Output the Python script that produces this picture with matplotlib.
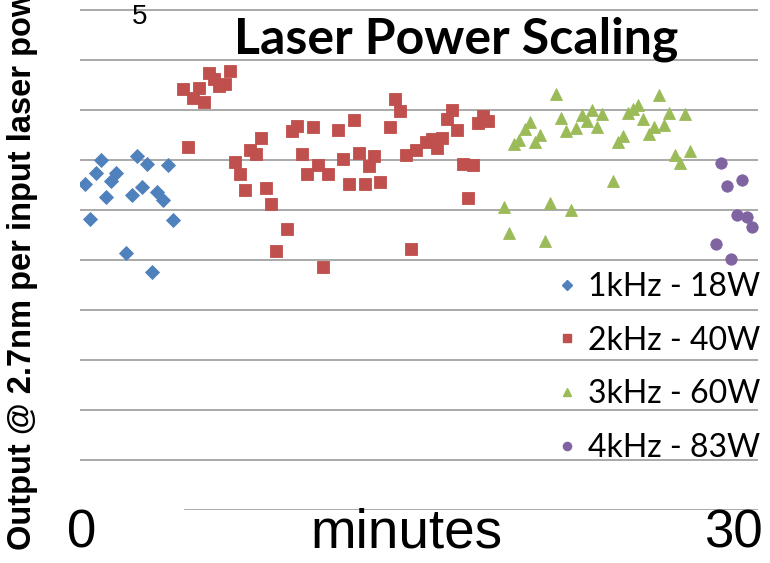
"""Scatter of output per input laser power over time for four pulse rates."""

import matplotlib.pyplot as plt
from matplotlib.lines import Line2D

# Time in minutes and normalised output for each pulse-rate setting.
t_1khz = [0.22, 0.44, 0.71, 0.93, 1.15, 1.37, 1.59, 2.04, 2.30, 2.52, 2.74,
          2.96, 3.19, 3.41, 3.67, 3.89, 4.12]
y_1khz = [6.52, 5.82, 6.74, 7.00, 6.26, 6.58, 6.74, 5.14, 6.30, 7.08, 6.46,
          6.92, 4.76, 6.36, 6.20, 6.90, 5.80]

t_2khz = [4.56, 4.78, 5.00, 5.27, 5.49, 5.71, 5.93, 6.15, 6.42, 6.64, 6.86,
          7.08, 7.30, 7.52, 7.79, 8.01, 8.23, 8.45, 8.67, 9.16, 9.38, 9.60,
          9.82, 10.04, 10.31, 10.53, 10.75, 10.97, 11.42, 11.64, 11.90, 12.12,
          12.35, 12.61, 12.79, 13.01, 13.27, 13.72, 13.94, 14.16, 14.42, 14.65,
          14.87, 15.31, 15.58, 15.80, 16.02, 16.24, 16.46, 16.68, 16.95, 17.17,
          17.39, 17.61, 17.83, 18.05]
y_2khz = [8.42, 7.26, 8.24, 8.44, 8.16, 8.74, 8.62, 8.48, 8.52, 8.78, 6.96,
          6.72, 6.40, 7.20, 7.12, 7.44, 6.44, 6.12, 5.18, 5.62, 7.58, 7.68,
          7.12, 6.72, 7.66, 6.90, 4.86, 6.72, 7.60, 7.02, 6.52, 7.80,
          7.14, 6.52, 6.88, 7.08, 6.56, 7.66, 8.22, 7.98, 7.10, 5.22,
          7.20, 7.36, 7.42, 7.24, 7.44, 7.82, 8.00, 7.60, 6.92, 6.24,
          6.90, 7.74, 7.88, 7.78]

t_3khz = [18.76, 18.98, 19.20, 19.42, 19.69, 19.91, 20.13, 20.35, 20.58,
          20.80, 21.06, 21.28, 21.50, 21.73, 21.95, 22.21, 22.43, 22.65,
          22.88, 23.10, 23.58, 23.81, 24.03, 24.25, 24.47, 24.69, 24.91,
          25.18, 25.40, 25.62, 25.84, 26.06, 26.33, 26.55, 26.77, 26.99]
y_3khz = [6.06, 5.54, 7.32, 7.40, 7.62, 7.76, 7.36, 7.50, 5.38,
          6.14, 8.32, 7.84, 7.58, 6.00, 7.64, 7.90, 7.78, 8.00,
          7.66, 7.92, 6.58, 7.36, 7.48, 7.94, 8.02, 8.10, 7.82,
          7.52, 7.66, 8.30, 7.70, 7.94, 7.10, 6.94, 7.92, 7.18]

t_4khz = [28.14, 28.36, 28.63, 28.81, 29.07, 29.29, 29.51, 29.73]
y_4khz = [5.32, 6.94, 6.48, 5.02, 5.90, 6.60, 5.86, 5.66]

series_labels = ["1kHz - 18W", "2kHz - 40W", "3kHz - 60W", "4kHz - 83W"]
series_colors = ["#4F81BD", "#C0504D", "#9BBB59", "#8064A2"]
series_markers = ["D", "s", "^", "o"]
series_sizes = [7.2, 8.2, 8.8, 8.2]

y_grid = [1, 2, 3, 4, 5, 6, 7, 8, 9, 10]
x_range = [0, 30]

fig = plt.figure(figsize=(7.7, 5.63), dpi=100)
ax = fig.add_axes([80 / 770, 53 / 563, 678 / 770, 510 / 563])
ax.set_xlim(*x_range)
ax.set_ylim(0, 10.2)

for y in y_grid:
    ax.axhline(y, color="#a3a3a3", linewidth=1.3, zorder=0)
ax.axhline(0, xmin=105 / 678, color="#a3a3a3", linewidth=1.3, zorder=0)

data = [(t_1khz, y_1khz), (t_2khz, y_2khz), (t_3khz, y_3khz), (t_4khz, y_4khz)]
for (t, y), color, marker, size in zip(data, series_colors, series_markers,
                                       series_sizes):
    ax.plot(t, y, linestyle="none", marker=marker, markersize=size,
            color=color, markeredgecolor=color, markeredgewidth=0.6,
            zorder=3)

for spine in ax.spines.values():
    spine.set_visible(False)
ax.set_xticks([])
ax.set_yticks([])

# End labels of the time axis and the axis title on one row.
xaxis_trans = ax.get_xaxis_transform()
ax.annotate(str(x_range[0]), xy=(x_range[0], 0), xycoords=xaxis_trans,
            xytext=(2, -23), textcoords="offset pixels", fontsize=38,
            family="Liberation Sans", ha="center", va="center")
ax.annotate(str(x_range[1]), xy=(x_range[1], 0), xycoords=xaxis_trans,
            xytext=(5, -23), textcoords="offset pixels", fontsize=38,
            family="Liberation Sans", ha="right", va="center")
ax.annotate("minutes", xy=(0.481, 0), xycoords="axes fraction",
            xytext=(0, -23), textcoords="offset pixels", fontsize=39.5,
            family="Liberation Sans", ha="center", va="center")

fig.text(456 / 770, 1 - 39 / 563, "Laser Power Scaling", fontsize=36,
         fontweight="bold", family="Lato", ha="center", va="center")
fig.text(140 / 770, 1 - 17 / 563, "5", fontsize=20,
         family="Liberation Sans", ha="center", va="center")
fig.text(23 / 770, 13 / 563, "Output @ 2.7nm per input laser power",
         rotation=90, fontsize=23.5, fontweight="bold",
         family="Liberation Sans", ha="center", va="bottom")

handles = [
    Line2D([], [], linestyle="none", marker=m, markersize=s * 0.72,
           color=c, markeredgecolor=c)
    for m, s, c in zip(series_markers, series_sizes, series_colors)
]
ax.legend(handles, series_labels, loc="upper left",
          bbox_to_anchor=(559 / 770, 1 - 272 / 563),
          bbox_transform=fig.transFigure, frameon=False,
          prop={"family": "Lato", "size": 23}, handlelength=0.5,
          handletextpad=0.42, labelspacing=0.74, borderpad=0,
          borderaxespad=0)

fig.savefig("out.png", dpi=100)
